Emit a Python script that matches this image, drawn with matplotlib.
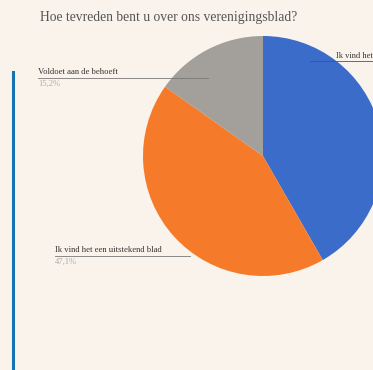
import matplotlib.pyplot as plt
from matplotlib.lines import Line2D

# survey answers, clockwise from the top
labels = ["Ik vind het", "Ik vind het een uitstekend blad", "Voldoet aan de behoeft"]
shares = [41.7, 43.1, 15.2]
pct_labels = ["41,7%", "47,1%", "15,2%"]
colors = ["#3b6cc9", "#f57b2b", "#a39f9a"]

title = "Hoe tevreden bent u over ons verenigingsblad?"
bg = "#f9f3ec"
H = 370

fig = plt.figure(figsize=(3.73, 3.70), dpi=100, facecolor=bg)
ax = fig.add_axes([0, 0, 1, 1])
ax.set_facecolor(bg)

ax.pie(shares, colors=colors, startangle=90, counterclock=False,
       center=(263, H - 156), radius=120, wedgeprops=dict(linewidth=0))
ax.set_xlim(0, 373)
ax.set_ylim(0, H)
ax.set_aspect("auto")
ax.axis("off")

serif = ["Liberation Serif", "DejaVu Serif"]
fig.text(40 / 373, 1 - 17 / H, title, family=serif, fontsize=9.8,
         color="#555555", va="center")

# leader lines + labels (pixel coords, y from top)
def callout(x0, x1, y, name, pct):
    ax.add_line(Line2D([x0, x1], [H - y, H - y], color="#777777", lw=0.6))
    ax.text(x0, H - y + 1.5, name, family=serif, fontsize=6.2, color="#333333", va="bottom")
    ax.text(x0, H - y - 1.5, pct, family=serif, fontsize=6.2, color="#b0aca6", va="top")

callout(38, 208, 78, labels[2], pct_labels[2])
callout(55, 190, 256, labels[1], pct_labels[1])
ax.add_line(Line2D([310, 373], [H - 61, H - 61], color="#555555", lw=0.6))
ax.text(336, H - 59.5, labels[0], family=serif, fontsize=6.0,
        color="#333333", va="bottom")

# blue accent bar on the left
ax.add_line(Line2D([13, 13], [H - 72, 0], color="#1673b1", lw=2.2))

fig.savefig("out.png", dpi=100, facecolor=bg)
